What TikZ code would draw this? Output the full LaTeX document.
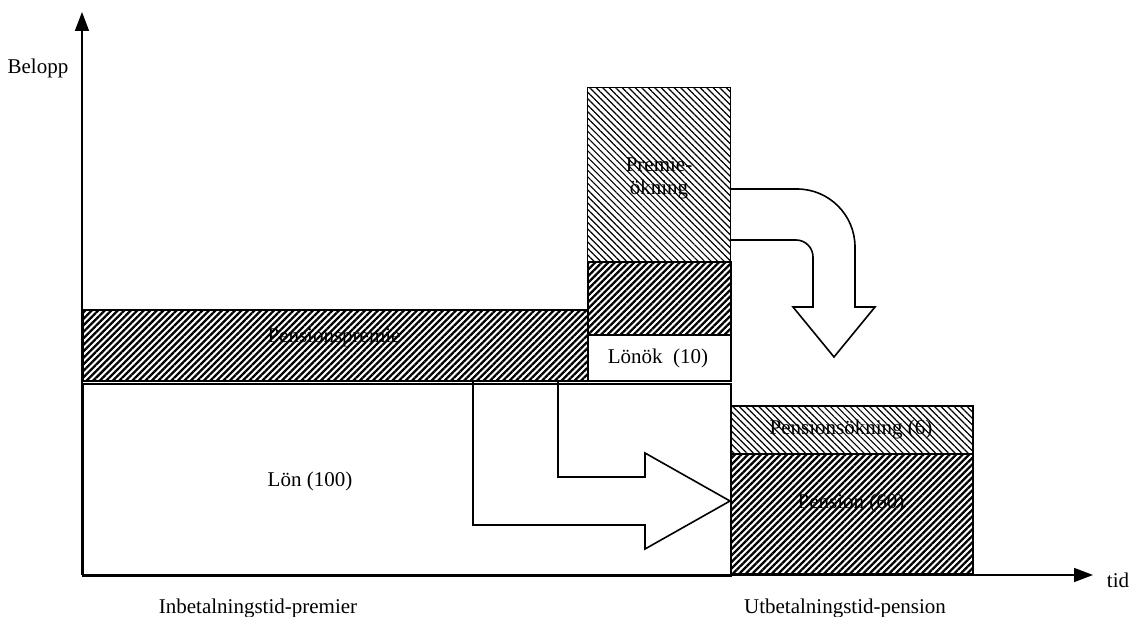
\documentclass[tikz,border=0pt]{standalone}
\usepackage{fontspec}
\setmainfont{Liberation Serif}
\usetikzlibrary{patterns.meta,arrows.meta}
\tikzset{
  darkhatch/.style={pattern={Lines[angle=45,distance=4.6pt,line width=2.3pt]}},
  lighthatch/.style={pattern={Lines[angle=-45,distance=4.6pt,line width=1.2pt]}},
  box/.style={draw,line width=1.6pt,inner sep=0pt,anchor=north west},
  lbl/.style={font=\fontsize{21}{22}\selectfont,inner sep=0pt,align=center,anchor=base},
  blockarrow/.style={draw,line width=1.6pt,line join=miter},
  axis/.style={line width=1.6pt,-{Triangle[length=19pt,width=14pt]}}
}
\begin{document}
\begin{tikzpicture}[x=1pt,y=-1pt]
\useasboundingbox (0,0) rectangle (1141,617);
% boxes
\node[box,minimum width=648pt,minimum height=192pt] (lon) at (82,383) {};
\node[box,darkhatch,minimum width=505pt,minimum height=71pt] (premie) at (82,309) {};
\node[box,minimum width=143pt,minimum height=46pt] (lonok) at (587,334) {};
\node[box,darkhatch,minimum width=143pt,minimum height=73pt] (darkbox) at (587,261) {};
\node[box,lighthatch,minimum width=143pt,minimum height=174pt] (premok) at (587,87) {};
\node[box,lighthatch,minimum width=242pt,minimum height=48pt] (penok) at (730,405) {};
\node[box,darkhatch,minimum width=242pt,minimum height=120pt] (pension) at (730,453) {};
% axes
\coordinate (o) at (82,575);
\coordinate (ytip) at (82,12);
\coordinate (xtip) at (1093,575);
\draw[axis] (o) -- (ytip);
\draw[axis] (o) -- (xtip);
% block arrow right
\draw[blockarrow] (473,382) -- (473,525) -- (645,525) -- (645,549) -- (pension.west |- 0,501)
  -- (645,453) -- (645,477) -- (558,477) -- (558,382);
% curved block arrow down
\draw[blockarrow] (premok.east |- 0,189) [rounded corners=58pt] -- (855,189) [sharp corners] -- (855,307)
  -- (875,307) -- (834,357) -- (793,307) -- (813,307) [rounded corners=17pt] -- (813,240) [sharp corners] -- (premok.east |- 0,240);
% labels
\node[lbl] (tlon) at (310,486) {Lön (100)};
\node[lbl] (tpremie) at (334,343) {Pensionspremie};
\node[lbl] (tlonok) at (658,364) {Lönök\ \ (10)};
\node[lbl] (tpremok1) at (659,172) {Premie-};
\node[lbl] (tpremok2) at (659,195) {ökning};
\node[lbl] (tpenok) at (851,435) {Pensionsökning (6)};
\node[lbl] (tpension) at (851,508) {Pension (60)};
\node[lbl] (tbelopp) at (38,74) {Belopp};
\node[lbl] (ttid) at (1118,587) {tid};
\node[lbl] (tinb) at (258,613) {Inbetalningstid-premier};
\node[lbl] (tutb) at (845,613) {Utbetalningstid-pension};
\end{tikzpicture}
\end{document}
